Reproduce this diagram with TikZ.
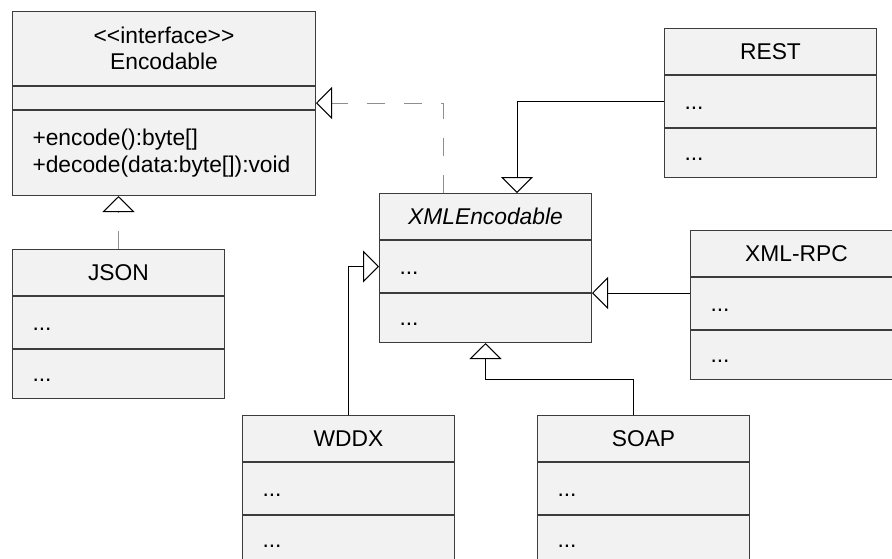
\documentclass[tikz,border=0pt]{standalone}
\usepackage{fontspec}
\newfontfamily\classfont{Liberation Sans}
\usetikzlibrary{arrows.meta,calc}
\definecolor{boxfill}{HTML}{F2F2F2}
\definecolor{boxline}{HTML}{3C3C3C}
\definecolor{dashgray}{HTML}{8F8F8F}

\begin{document}
\begin{tikzpicture}[x=1pt, y=-1pt, line width=1pt,
	box/.style={draw=boxline, fill=boxfill, inner sep=0pt, anchor=north west,
		font=\classfont\fontsize{22.8pt}{26.5pt}\selectfont},
	one line/.style={text height=20pt, text depth=5pt},
	cls title/.style={box, one line, minimum width=212pt, minimum height=46pt},
	cls attr/.style={box, one line, minimum width=212pt, minimum height=52pt, text width=172pt, align=left},
	cls ops/.style={cls attr, minimum height=49pt},
	inherit/.style={draw=black, -{Triangle[open, length=16pt, width=32pt]}},
	realize/.style={draw=dashgray, dash pattern=on 18pt off 19pt,
		-{Triangle[open, length=16pt, width=32pt, color=black]}}]
	
	\useasboundingbox (0,0) rectangle (892,558);
	\clip (0,0) rectangle (892,558);
	
	% Interface
	\node[box, minimum width=303pt, minimum height=74pt, align=center] (enc) at (12,11) {<\kern0pt<interface>\kern0pt>\\Encodable};
	\node[box, minimum width=303pt, minimum height=23pt] (enc-attr) at (enc.south west) {};
	\node[box, minimum width=303pt, minimum height=85pt, text width=263pt, align=left] (enc-ops) at (enc-attr.south west) {+encode():byte[]\\+decode(data:byte[]):void};
	
	% Classes
	\node[cls title] (json) at (12,249) {JSON};
	\node[cls attr] (json-attr) at (json.south west) {...};
	\node[cls ops] (json-ops) at (json-attr.south west) {...};
	
	\node[cls title] (xml) at (379,193) {\itshape XMLEncodable};
	\node[cls attr] (xml-attr) at (xml.south west) {...};
	\node[cls ops] (xml-ops) at (xml-attr.south west) {...};
	
	\node[cls title] (rest) at (664,28) {REST};
	\node[cls attr] (rest-attr) at (rest.south west) {...};
	\node[cls ops] (rest-ops) at (rest-attr.south west) {...};
	
	\node[cls title] (xmlrpc) at (690,230) {XML-RPC};
	\node[cls attr] (xmlrpc-attr) at (xmlrpc.south west) {...};
	\node[cls ops] (xmlrpc-ops) at (xmlrpc-attr.south west) {...};
	
	\node[cls title] (wddx) at (242,415) {WDDX};
	\node[cls attr] (wddx-attr) at (wddx.south west) {...};
	\node[cls ops] (wddx-ops) at (wddx-attr.south west) {...};
	
	\node[cls title] (soap) at (537,415) {SOAP};
	\node[cls attr] (soap-attr) at (soap.south west) {...};
	\node[cls ops] (soap-ops) at (soap-attr.south west) {...};
	
	% Realizations
	\draw[realize] (json.north) -- (json.north |- enc-ops.south);
	\draw[realize] ($(xml.north west)+(64,0)$) |- ($(enc-attr.north east)+(0,17)$);
	
	% Generalizations
	\draw[inherit] (rest-attr.west) -| ($(xml.north west)+(138,0)$);
	\draw[inherit] (xmlrpc-attr.west |- xml-attr.south) -- (xml-attr.south east);
	\draw[inherit] (wddx.north) |- (xml-attr.west);
	\draw[inherit] ($(soap.north)+(-10,0)$) |- ($(xml-ops.south)+(0,36)$) -- (xml-ops.south);
\end{tikzpicture}
\end{document}
